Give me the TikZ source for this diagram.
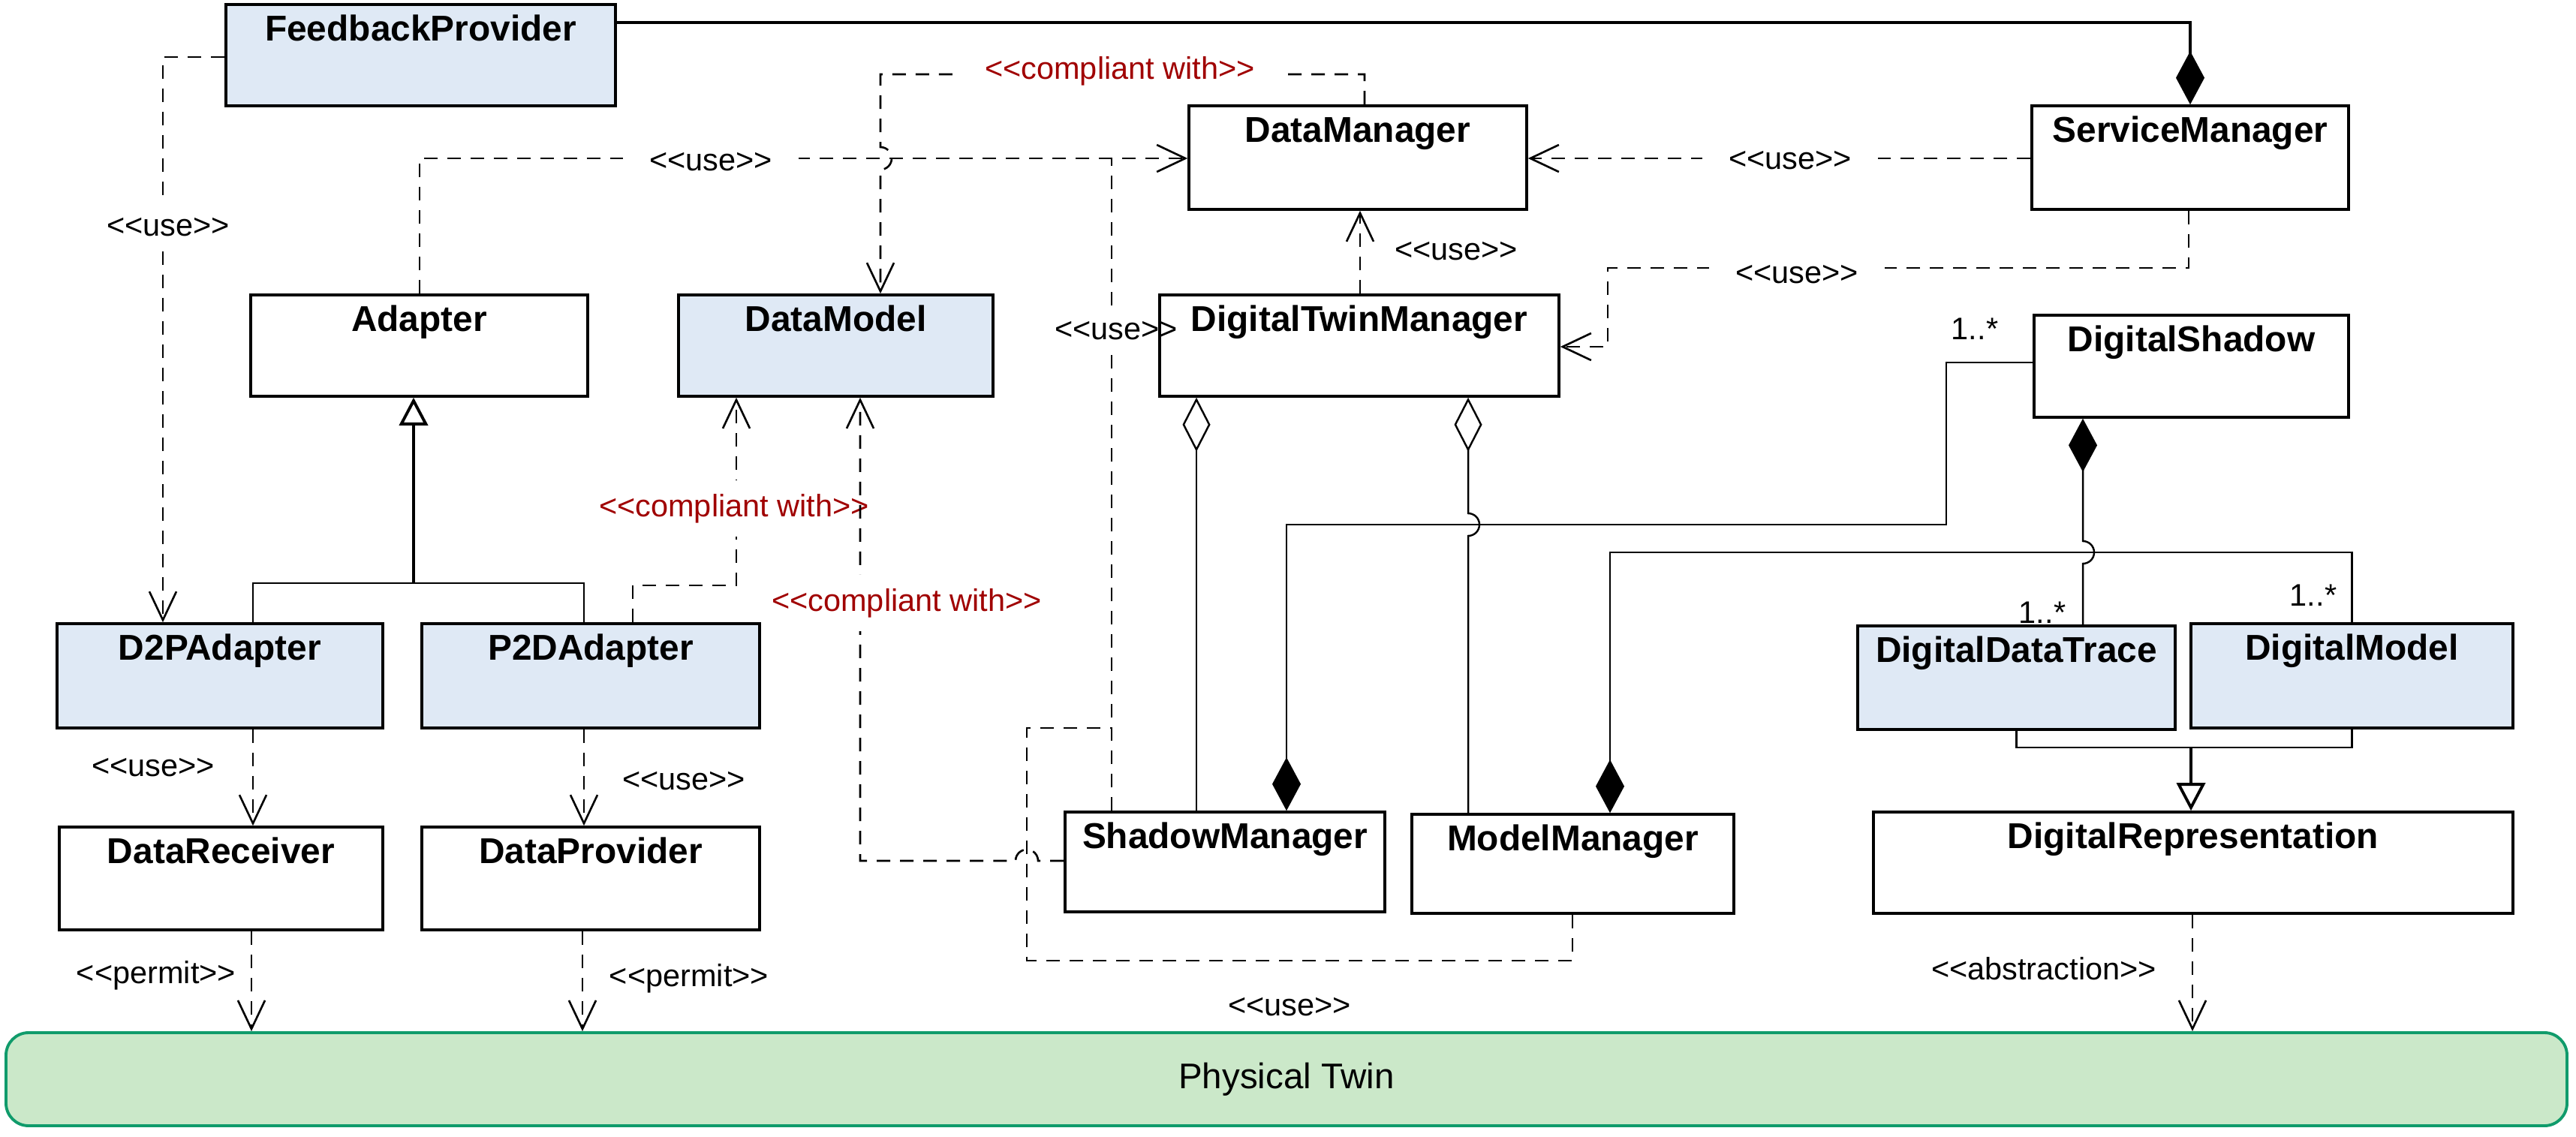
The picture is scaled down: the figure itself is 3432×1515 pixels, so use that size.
\documentclass[tikz,border=0pt]{standalone}
\usepackage{fontspec}
\setmainfont{Liberation Sans}
\usetikzlibrary{arrows.meta,fit,calc}
\definecolor{boxblue}{RGB}{223,233,245}
\definecolor{ptfill}{RGB}{203,232,201}
\definecolor{ptdraw}{RGB}{16,155,107}
\definecolor{cwred}{RGB}{160,0,0}
\newcommand\stereo[1]{<\kern0pt<#1>\kern0pt>}
\begin{document}
\begin{tikzpicture}[x=0.01cm,y=-0.01cm,
  cls/.style={draw, line width=1pt, inner sep=0pt, fill=white},
  cname/.style={anchor=base, inner sep=0pt, font=\fontsize{13.6pt}{16pt}\selectfont\bfseries},
  lbl/.style={anchor=base, inner sep=0pt, font=\fontsize{11.8pt}{14pt}\selectfont},
  hlbl/.style={lbl, fill=white, inner xsep=0.35cm, inner ysep=0.06cm},
  vlbl/.style={lbl, fill=white, inner xsep=0.02cm, inner ysep=0.18cm},
  cw/.style={text=cwred},
  dline/.style={line width=0.75pt, dash pattern=on 0.18cm off 0.13cm},
  dep/.style={dline, -{Straight Barb[length=0.38cm, width=0.36cm]}},
  assoc/.style={line width=0.7pt},
  comp/.style={assoc, -{Diamond[length=0.71cm, width=0.38cm]}},
  compstart/.style={assoc, {Diamond[length=0.71cm, width=0.38cm]}-},
  aggstart/.style={assoc, {Diamond[open, length=0.72cm, width=0.37cm]}-},
  gen/.style={line width=1.1pt, -{Triangle[open, length=0.37cm, width=0.38cm]}},
  hop/.style={}
]
\useasboundingbox (0,0) rectangle (3432,1515);

% ---------------- classes ----------------
\node[cls, fill=boxblue, fit={(301,6) (820,141)}] (fp) {};
\node[cname] at ([yshift=-0.5cm]fp.north) {FeedbackProvider};
\node[cls, fit={(1584,141) (2034,279)}] (dm) {};
\node[cname] at ([yshift=-0.5cm]dm.north) {DataManager};
\node[cls, fit={(2707,141) (3129,279)}] (sm) {};
\node[cname] at ([yshift=-0.5cm]sm.north) {ServiceManager};
\node[cls, fit={(334,393) (783,528)}] (ad) {};
\node[cname] at ([yshift=-0.5cm]ad.north) {Adapter};
\node[cls, fill=boxblue, fit={(904,393) (1323,528)}] (dmod) {};
\node[cname] at ([yshift=-0.5cm]dmod.north) {DataModel};
\node[cls, fit={(1545,393) (2077,528)}] (dtm) {};
\node[cname] at ([yshift=-0.5cm]dtm.north) {DigitalTwinManager};
\node[cls, fit={(2710,420) (3129,556)}] (ds) {};
\node[cname] at ([yshift=-0.5cm]ds.north) {DigitalShadow};
\node[cls, fill=boxblue, fit={(76,831) (510,970)}] (d2p) {};
\node[cname] at ([yshift=-0.5cm]d2p.north) {D2PAdapter};
\node[cls, fill=boxblue, fit={(562,831) (1012,970)}] (p2d) {};
\node[cname] at ([yshift=-0.5cm]p2d.north) {P2DAdapter};
\node[cls, fill=boxblue, fit={(2475,834) (2898,972)}] (ddt) {};
\node[cname] at ([yshift=-0.5cm]ddt.north) {DigitalDataTrace};
\node[cls, fill=boxblue, fit={(2919,831) (3348,970)}] (dmo) {};
\node[cname] at ([yshift=-0.5cm]dmo.north) {DigitalModel};
\node[cls, fit={(79,1102) (510,1239)}] (dr) {};
\node[cname] at ([yshift=-0.5cm]dr.north) {DataReceiver};
\node[cls, fit={(562,1102) (1012,1239)}] (dp) {};
\node[cname] at ([yshift=-0.5cm]dp.north) {DataProvider};
\node[cls, fit={(1419,1082) (1845,1215)}] (shm) {};
\node[cname] at ([yshift=-0.5cm]shm.north) {ShadowManager};
\node[cls, fit={(1881,1085) (2310,1217)}] (mm) {};
\node[cname] at ([yshift=-0.5cm]mm.north) {ModelManager};
\node[cls, fit={(2496,1082) (3348,1217)}] (drep) {};
\node[cname] at ([yshift=-0.5cm]drep.north) {DigitalRepresentation};
\node[draw=ptdraw, fill=ptfill, line width=1.1pt, rounded corners=0.3cm, inner sep=0pt, fit={(8,1376) (3420,1500)}] (pt) {};
\node[inner sep=0pt, font=\fontsize{13.5pt}{16pt}\selectfont] (ptxt) at (pt.center) {Physical Twin};

% ---------------- compositions / aggregations ----------------
\draw[line width=0.9pt, -{Diamond[length=0.71cm, width=0.38cm]}] (fp.east |- 0,30) -| (sm.north);
\draw[comp] (ds.west |- 0,483) -| (2593,699) -| (shm.north -| 1714,0);
\node[lbl] at (2631,452) {1..*};
\draw[comp] (dmo.north) |- (2145,736) -- (mm.north -| 2145,0);
\node[lbl] at (3082,807) {1..*};
\draw[compstart] (ds.south -| 2775,0) -- (2775,721) arc[start angle=90, end angle=-90, radius=0.15cm] -- (ddt.north -| 2775,0);
\node[lbl] at (2721,830) {1..*};
\draw[aggstart] (dtm.south -| 1594,0) -- (shm.north -| 1594,0);
\draw[aggstart] (dtm.south -| 1956,0) -- (1956,684) arc[start angle=90, end angle=-90, radius=0.15cm] -- (mm.north -| 1956,0);

% ---------------- generalizations ----------------
\coordinate (adj) at (551,777);
\draw[assoc] (d2p.north -| 337,0) |- (adj) -| (p2d.north -| 778,0);
\draw[gen] (adj) -- (ad.south -| adj);
\coordinate (drj) at (2919,996);
\draw[assoc] (ddt.south) |- (drj) -| (dmo.south);
\draw[gen] (drj) -- (drep.north -| drj);

% ---------------- dependencies ----------------
% FeedbackProvider -> D2PAdapter
\draw[dep] (fp.west |- 0,76) -| (d2p.north -| 217,0);
\node[vlbl] at (224,314) {\stereo{use}};
% Adapter -> DataManager
\draw[dep] (ad.north -| 559,0) |- (dm.west |- 0,211);
\node[hlbl] at (947,227) {\stereo{use}};
% ShadowManager -> DataManager (joins)
\draw[dline] (shm.north -| 1481,0) -- (1481,472);
\draw[dline] (1481,407) -- (1481,211);
\node[lbl] at (1487,452) {\stereo{use}};
% ModelManager -> (joins ShadowManager line)
\draw[dline] (mm.south -| 2095,0) |- (1368,1280) -- (1368,970) -- (1481,970);
\node[lbl] at (1718,1353) {\stereo{use}};
% DataManager compliant with DataModel
\draw[dep] (dm.north -| 1818,0) |- (1173,99) -- (1173,196) arc[start angle=90, end angle=-90, radius=0.15cm] -- (dmod.north -| 1173,0);
\node[hlbl, cw] at (1492,105) {\stereo{compliant with}};
% P2DAdapter compliant with DataModel
\draw[dep] (p2d.north -| 843,0) |- (981,780) -- (dmod.south -| 981,0);
\node[vlbl, cw] at (978,688) {\stereo{compliant with}};
% ShadowManager compliant with DataModel
\draw[dep] (shm.west |- 0,1147) -- (1383,1147) arc[start angle=0, end angle=180, radius=0.15cm] -- (1146,1147) -- (dmod.south -| 1146,0);
\node[vlbl, cw] at (1208,814) {\stereo{compliant with}};
% DigitalTwinManager -> DataManager
\draw[dep] (dtm.north -| 1812,0) -- (dm.south -| 1812,0);
\node[lbl] at (1940,346) {\stereo{use}};
% ServiceManager -> DataManager
\draw[dep] (sm.west |- 0,211) -- (dm.east |- 0,211);
\node[hlbl] at (2385,225) {\stereo{use}};
% ServiceManager -> DigitalTwinManager
\draw[dep] (sm.south -| 2916,0) |- (2142,357) |- (dtm.east |- 0,462);
\node[hlbl] at (2394,377) {\stereo{use}};
% D2PAdapter -> DataReceiver
\draw[dep] (d2p.south -| 337,0) -- (dr.north -| 337,0);
\node[lbl] at (204,1034) {\stereo{use}};
% P2DAdapter -> DataProvider
\draw[dep] (p2d.south -| 778,0) -- (dp.north -| 778,0);
\node[lbl] at (911,1052) {\stereo{use}};
% DataReceiver -> Physical Twin
\draw[dep] (dr.south -| 335,0) -- (pt.north -| 335,0);
\node[lbl] at (208,1310) {\stereo{permit}};
% DataProvider -> Physical Twin
\draw[dep] (dp.south -| 776,0) -- (pt.north -| 776,0);
\node[lbl] at (918,1314) {\stereo{permit}};
% DigitalRepresentation -> Physical Twin
\draw[dep] (drep.south -| 2921,0) -- (pt.north -| 2921,0);
\node[lbl] at (2723,1305) {\stereo{abstraction}};
\end{tikzpicture}
\end{document}
